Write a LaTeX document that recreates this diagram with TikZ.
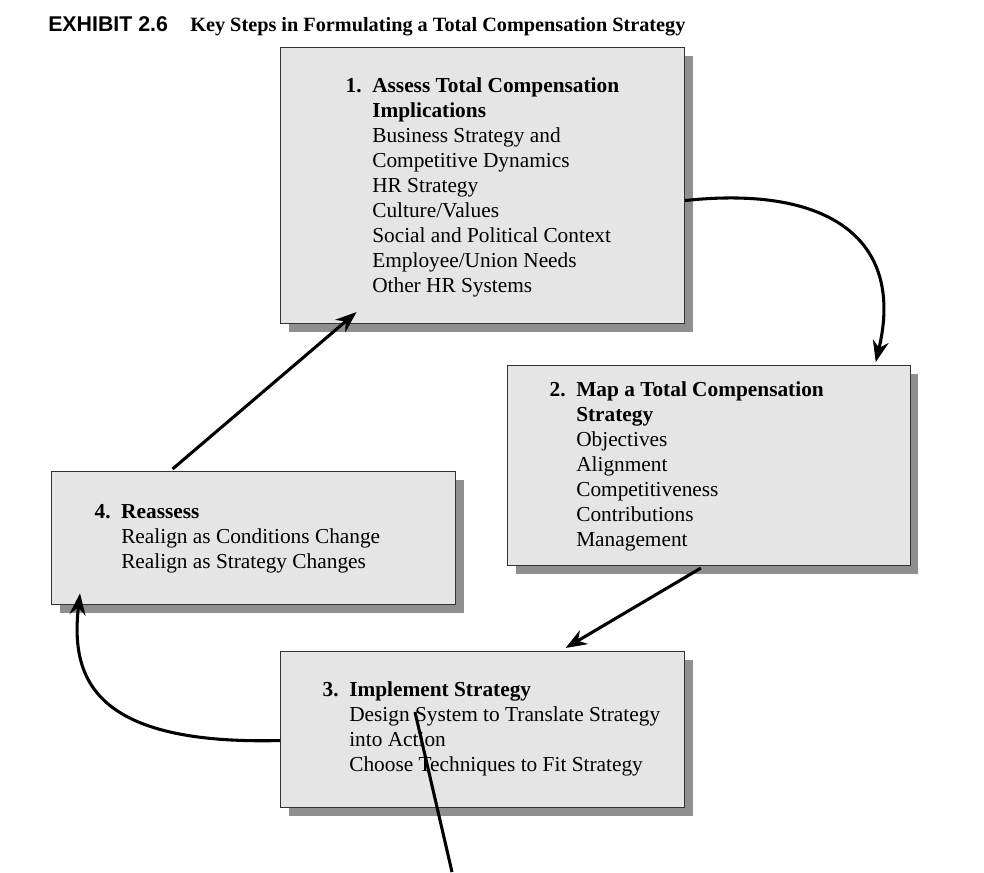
\documentclass[tikz,border=0pt]{standalone}
\usepackage{fontspec}
\setmainfont{Liberation Serif}
\setsansfont{Liberation Sans}
\usetikzlibrary{arrows.meta,shadows,calc}
\tikzset{
  stepbox/.style={draw=black!80, line width=0.8pt, fill=black!10, anchor=north west,
    inner sep=0pt, drop shadow={shadow xshift=6pt, shadow yshift=-6pt, fill=black!55, opacity=0.8}},
  steptext/.style={anchor=north west, inner sep=0pt, align=left,
    font=\fontsize{16}{18.75}\selectfont},
  flow/.style={line width=2.3pt, -{Stealth[length=16pt,width=12pt]}}
}
\begin{document}
\begin{tikzpicture}[x=0.75pt,y=-0.75pt]
\useasboundingbox (0,0) rectangle (984,872);
% title
\node[anchor=base west, inner sep=0pt, font=\sffamily\bfseries\fontsize{16}{18}\selectfont] (exh) at (48,31) {EXHIBIT 2.6};
\node[anchor=base west, inner sep=0pt, font=\bfseries\fontsize{15.2}{17}\selectfont] (title) at (190,31) {Key Steps in Formulating a Total Compensation Strategy};

% boxes
\node[stepbox, minimum width=303pt, minimum height=207pt] (box1) at (280,47) {};
\node[stepbox, minimum width=302pt, minimum height=150pt] (box2) at (507,365) {};
\node[stepbox, minimum width=303pt, minimum height=100pt] (box4) at (51,471) {};
\node[stepbox, minimum width=303pt, minimum height=117pt] (box3) at (280,651) {};

% texts
\node[steptext] (txt1) at (372,77) {\llap{\textbf{1.}\enspace}\textbf{Assess Total Compensation}\\
  \textbf{Implications}\\ Business Strategy and\\ Competitive Dynamics\\ HR Strategy\\
  Culture/Values\\ Social and Political Context\\ Employee/Union Needs\\ Other HR Systems};
\node[steptext] (txt2) at (576,381) {\llap{\textbf{2.}\enspace}\textbf{Map a Total Compensation}\\
  \textbf{Strategy}\\ Objectives\\ Alignment\\ Competitiveness\\ Contributions\\ Management};
\node[steptext] (txt4) at (121,504) {\llap{\textbf{4.}\enspace}\textbf{Reassess}\\
  Realign as Conditions Change\\ Realign as Strategy Changes};
\node[steptext] (txt3) at (349,681) {\llap{\textbf{3.}\enspace}\textbf{Implement Strategy}\\
  Design System to Translate Strategy\\ into Action\\ Choose Techniques to Fit Strategy};

% connectors
\draw[flow] ($(box1.east)+(0,15)$) .. controls (830,185) and (905,240) .. ($(box2.north east)+(-35,-3)$);
\draw[flow] ($(box2.south)+(-8,2)$) -- ($(box3.north)+(83,-3)$);
\draw[flow] ($(box3.west)+(0,11)$) .. controls (95,745) and (70,680) .. ($(box4.south west)+(29,-12)$);
\draw[flow] ($(box4.north)+(-81,-2)$) -- ($(box1.south)+(-126,-12)$);

% pointer line
\coordinate (ptr) at (415,712);
\coordinate (ptrend) at (452,872);
\draw[line width=2.3pt] (ptr) -- (ptrend);
\end{tikzpicture}
\end{document}
